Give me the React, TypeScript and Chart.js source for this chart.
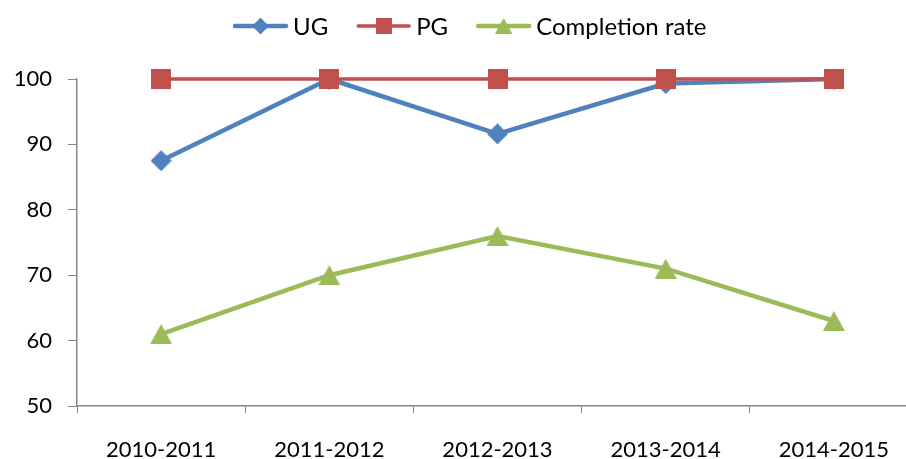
import React, { useEffect, useRef } from "react";
import { Chart, registerables } from "chart.js";

Chart.register(...registerables);

const categories = ["2010-2011", "2011-2012", "2012-2013", "2013-2014", "2014-2015"];
const ugValues = [87.5, 100, 91.6, 99.3, 100];
const pgValues = [100, 100, 100, 100, 100];
const completionValues = [61, 70, 76, 71, 63];
const seriesNames = ["UG", "PG", "Completion rate"];
const yTicks = { min: 50, max: 100, step: 10 };

const BLUE = "#4F81BD";
const RED = "#C0504D";
const GREEN = "#9BBB59";
const AXIS = "#868686";
const FONT = "Lato";

function makeMarker(kind: string, color: string): HTMLCanvasElement {
  const c = document.createElement("canvas");
  if (kind === "diamond") {
    c.width = 21; c.height = 21;
  } else if (kind === "square") {
    c.width = 20; c.height = 20;
  } else {
    c.width = 22; c.height = 20;
  }
  const ctx = c.getContext("2d")!;
  ctx.fillStyle = color;
  if (kind === "diamond") {
    ctx.beginPath();
    ctx.moveTo(10.5, 0); ctx.lineTo(21, 10.5); ctx.lineTo(10.5, 21); ctx.lineTo(0, 10.5);
    ctx.closePath(); ctx.fill();
  } else if (kind === "square") {
    ctx.fillRect(0, 0, 20, 20);
  } else {
    ctx.beginPath();
    ctx.moveTo(11, 0); ctx.lineTo(22, 20); ctx.lineTo(0, 20);
    ctx.closePath(); ctx.fill();
  }
  return c;
}

export default function App() {
  const ref = useRef<HTMLCanvasElement | null>(null);
  useEffect(() => {
    if (!ref.current) return;
    const mDiamond = makeMarker("diamond", BLUE);
    const mSquare = makeMarker("square", RED);
    const mTri = makeMarker("triangle", GREEN);

    const legendPlugin = {
      id: "customLegend",
      afterDraw(chart: any) {
        const ctx = chart.ctx as CanvasRenderingContext2D;
        const items = [
          { name: seriesNames[0], color: BLUE, lw: 4.5, marker: mDiamond },
          { name: seriesNames[1], color: RED, lw: 3.5, marker: mSquare },
          { name: seriesNames[2], color: GREEN, lw: 4.5, marker: mTri },
        ];
        ctx.save();
        ctx.font = `24px ${FONT}`;
        const lineLen = 55, gapText = 5, gapItem = 28;
        let total = 0;
        const widths = items.map((it) => lineLen + gapText + ctx.measureText(it.name).width);
        widths.forEach((w) => (total += w));
        total += gapItem * (items.length - 1);
        let x = 233;
        const y = 26;
        items.forEach((it, i) => {
          ctx.strokeStyle = it.color;
          ctx.lineWidth = it.lw;
          ctx.lineCap = "round";
          ctx.beginPath();
          ctx.moveTo(x + 2, y);
          ctx.lineTo(x + lineLen - 2, y);
          ctx.stroke();
          const m = it.marker;
          const s = 0.8;
          ctx.drawImage(m, x + lineLen / 2 - (m.width * s) / 2, y - (m.height * s) / 2, m.width * s, m.height * s);
          ctx.fillStyle = "#000";
          ctx.textBaseline = "middle";
          ctx.textAlign = "left";
          ctx.fillText(it.name, x + lineLen + gapText, y + 1);
          x += widths[i] + gapItem;
        });
        ctx.restore();
      },
    };

    const chart = new Chart(ref.current, {
      type: "line",
      data: {
        labels: categories,
        datasets: [
          {
            label: seriesNames[0],
            data: ugValues,
            borderColor: BLUE,
            backgroundColor: BLUE,
            borderWidth: 4.5,
            pointStyle: mDiamond as any,
            order: 2,
            clip: false as any,
          },
          {
            label: seriesNames[1],
            data: pgValues,
            borderColor: RED,
            backgroundColor: RED,
            borderWidth: 3.5,
            pointStyle: mSquare as any,
            order: 1,
            clip: false as any,
          },
          {
            label: seriesNames[2],
            data: completionValues,
            borderColor: GREEN,
            backgroundColor: GREEN,
            borderWidth: 4.5,
            pointStyle: mTri as any,
            order: 0,
            clip: false as any,
          },
        ],
      },
      options: {
        animation: false,
        responsive: false,
        layout: { padding: { top: 79, right: 17, left: 0, bottom: 0 } },
        plugins: { legend: { display: false }, tooltip: { enabled: false } },
        scales: {
          x: {
            offset: true,
            grid: { offset: true, drawOnChartArea: false, drawTicks: true, tickLength: 7, color: AXIS },
            border: { display: true, color: AXIS, width: 1.5 },
            ticks: { color: "#000", font: { family: FONT, size: 22 }, padding: 24, maxRotation: 0 },
            afterFit: (s: any) => { s.height = 53; },
          },
          y: {
            min: yTicks.min,
            max: yTicks.max,
            ticks: { stepSize: yTicks.step, color: "#000", font: { family: FONT, size: 22 }, padding: 16 },
            grid: { drawOnChartArea: false, drawTicks: true, tickLength: 9, color: AXIS },
            border: { display: true, color: AXIS, width: 1.5 },
            afterFit: (s: any) => { s.width = 77; },
          },
        },
      },
      plugins: [legendPlugin],
    });
    return () => chart.destroy();
  }, []);

  return (
    <div style={{ position: "fixed", left: 0, top: 0, width: 906, height: 459, overflow: "hidden", background: "#fff" }}>
      <canvas ref={ref} width={935} height={459} style={{ width: 935, height: 459, display: "block" }} />
    </div>
  );
}
